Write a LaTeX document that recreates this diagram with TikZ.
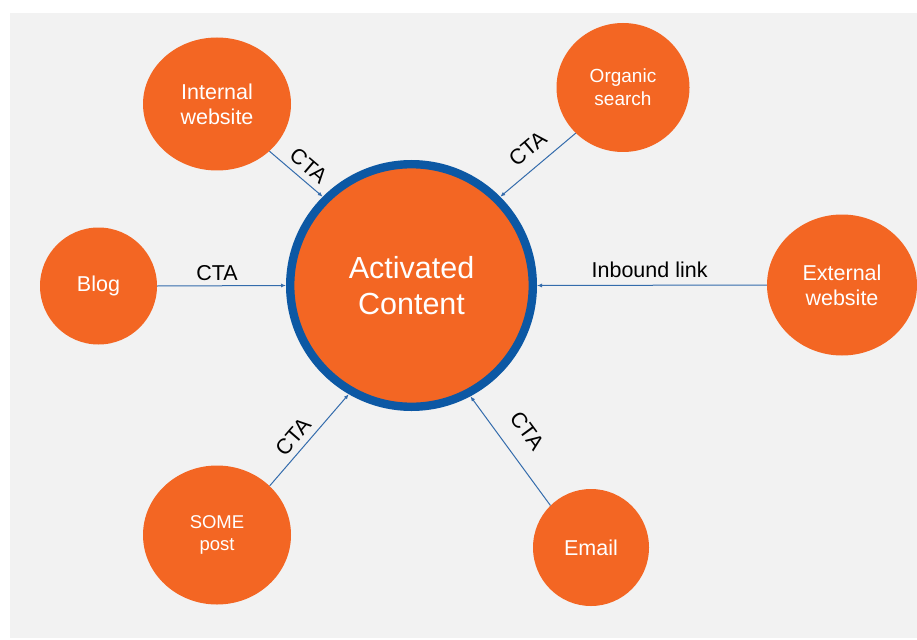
\documentclass[tikz,border=0pt]{standalone}
\usepackage{fontspec}
\setmainfont{Liberation Sans}
\usetikzlibrary{shapes.geometric,arrows.meta}
\definecolor{bgpanel}{RGB}{242,242,242}
\definecolor{orangefill}{RGB}{243,102,35}
\definecolor{ringblue}{RGB}{12,88,164}
\definecolor{lineblue}{RGB}{52,108,172}
\begin{document}
\begin{tikzpicture}[x=1pt,y=1pt,
  sat/.style={ellipse, fill=orangefill, text=white, align=center, inner sep=0pt, font=\fontsize{21.5}{25}\selectfont},
  hub/.style={circle, draw=ringblue, line width=8.4pt, fill=orangefill, text=white, align=center, minimum size=242.6pt, inner sep=0pt, font=\fontsize{30.5}{36}\selectfont},
  link/.style={draw=lineblue, line width=1pt, -{Latex[length=5pt,width=4pt]}},
  lbl/.style={font=\fontsize{21.5}{25}\selectfont, text=black, sloped, inner sep=0pt}]
\useasboundingbox (0,0) rectangle (917,-639);
\fill[white] (0,0) rectangle (917,-639);
\fill[bgpanel] (10,-13) rectangle (917,-638);
\node[hub] (ac) at (411.5,-285.5) {Activated\\Content};
\node[sat, minimum width=148pt, minimum height=133pt] (iw) at (217,-104) {Internal\\website};
\node[sat, minimum width=117pt, minimum height=117pt] (blog) at (98.5,-286) {Blog};
\node[sat, minimum width=133pt, minimum height=129pt, font=\fontsize{19}{23}\selectfont] (os) at (623,-87.5) {Organic\\search};
\node[sat, minimum width=150pt, minimum height=141pt] (ew) at (842,-285) {External\\website};
\node[sat, minimum width=148pt, minimum height=139pt, font=\fontsize{18.5}{22}\selectfont] (sp) at (217,-535) {SOME\\post};
\node[sat, minimum width=116pt, minimum height=117pt] (em) at (591,-547.5) {Email};
\draw[link] (iw.-42) -- node[lbl, pos=.56, above=6.3pt] {CTA} (ac.135);
\draw[link] (os.224) -- node[lbl, pos=.475, above=10.8pt] {CTA} (ac.45);
\draw[link] (blog.0) -- node[lbl, pos=.465, above=5pt] {CTA} (ac.180);
\draw[link] (ew.180) -- node[lbl, pos=.51, above=7.4pt] {Inbound link} (ac.0);
\draw[link] (sp.43) -- node[lbl, pos=.433, above=6.2pt] {CTA} (ac.240);
\draw[link] (em.134) -- node[lbl, pos=.547, above=17.3pt] {CTA} (ac.298);
\end{tikzpicture}
\end{document}
